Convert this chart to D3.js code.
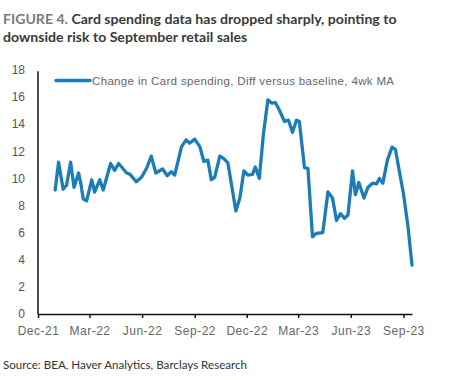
<!DOCTYPE html>
<html lang="en">
<head>
  <meta charset="UTF-8">
  <title>Card spending</title>
  <script src="https://d3js.org/d3.v7.min.js"></script>
  <style>
    body { margin: 0; background: #fff; }
    svg text { font-family: "Liberation Sans", Arial, sans-serif; }
  </style>
</head>
<body>
  <div id="chart"></div>
  <script>
    // values (date of point, level)
    const dates = [
      "2021-12-31","2022-01-06","2022-01-14","2022-01-20","2022-01-27","2022-02-02","2022-02-10","2022-02-14",
      "2022-02-18","2022-02-24","2022-03-05","2022-03-10","2022-03-19","2022-03-25","2022-04-07","2022-04-14",
      "2022-04-21","2022-05-05","2022-05-11","2022-05-22","2022-05-31","2022-06-09","2022-06-17","2022-06-25",
      "2022-07-07","2022-07-15","2022-07-22","2022-07-28","2022-08-09","2022-08-17","2022-08-23","2022-09-01",
      "2022-09-10","2022-09-17","2022-09-24","2022-09-30","2022-10-06","2022-10-15","2022-10-21","2022-10-29",
      "2022-11-12","2022-11-19","2022-11-26","2022-12-03","2022-12-11","2022-12-16","2022-12-23","2022-12-30",
      "2023-01-07","2023-01-14","2023-01-20","2023-01-27","2023-02-05","2023-02-12","2023-02-19","2023-02-26",
      "2023-03-03","2023-03-12","2023-03-18","2023-03-26","2023-04-02","2023-04-13","2023-04-22","2023-04-30",
      "2023-05-07","2023-05-14","2023-05-21","2023-05-27","2023-06-04","2023-06-09","2023-06-15","2023-06-24",
      "2023-07-01","2023-07-09","2023-07-16","2023-07-21","2023-07-27","2023-08-04","2023-08-12","2023-08-18",
      "2023-08-25","2023-09-01","2023-09-09","2023-09-16"
    ];
    const spending = [
      9.15, 11.2, 9.2, 9.5, 11.2, 9.35, 10.4, 9.6,
      8.5, 8.35, 9.9, 9.0, 9.9, 9.15, 11.1, 10.6,
      11.1, 10.4, 10.3, 9.75, 10.1, 10.75, 11.65, 10.4,
      10.7, 10.2, 10.5, 10.25, 12.35, 12.85, 12.6, 12.9,
      12.35, 11.25, 11.35, 9.9, 10.1, 11.65, 11.5, 11.15,
      7.6, 8.55, 10.55, 10.25, 10.3, 10.85, 10.0, 13.2,
      15.8, 15.55, 15.6, 15.05, 14.2, 14.3, 13.4, 14.3,
      14.2, 10.8, 10.75, 5.7, 5.95, 6.0, 9.0, 8.55,
      6.9, 7.4, 7.05, 7.3, 10.55, 8.8, 9.7, 8.55,
      9.35, 9.65, 9.6, 10.0, 9.65, 11.35, 12.3, 12.15,
      10.5, 8.9, 6.45, 3.6
    ];
    const yTicks = [0, 2, 4, 6, 8, 10, 12, 14, 16, 18];
    const xTickDates = ["2021-12-01","2022-03-01","2022-06-01","2022-09-01","2022-12-01","2023-03-01","2023-06-01","2023-09-01"];
    const xDomain = ["2021-12-01", "2023-09-16"];
    const seriesName = "Change in Card spending, Diff versus baseline, 4wk MA";

    const parse = d3.timeParse("%Y-%m-%d");
    const data = dates.map((d, i) => ({ date: parse(d), value: spending[i] }));

    const width = 462, height = 380;
    const svg = d3.select("#chart").append("svg")
      .attr("width", width).attr("height", height);

    const x = d3.scaleTime().domain(xDomain.map(parse)).range([38, 412]);
    const y = d3.scaleLinear().domain([0, 18]).range([314, 70]);

    // title
    const title = svg.append("text").attr("x", 3).attr("y", 24)
      .style("font-family", "Lato, sans-serif").style("font-size", "14.1px").style("font-weight", "bold");
    title.append("tspan").attr("fill", "#7a7a7a").text("FIGURE 4. ");
    title.append("tspan").attr("fill", "#3a3a3a").text("Card spending data has dropped sharply, pointing to");
    svg.append("text").attr("x", 3).attr("y", 42)
      .style("font-family", "Lato, sans-serif").style("font-size", "14.1px").style("font-weight", "bold")
      .attr("fill", "#3a3a3a").text("downside risk to September retail sales");

    // y axis labels
    svg.append("g").selectAll("text").data(yTicks).join("text")
      .attr("x", 25).attr("y", d => y(d)).attr("dy", "0.35em")
      .attr("text-anchor", "end").attr("fill", "#555")
      .style("font-size", "12px").text(d => d);

    // x axis
    const xAxis = d3.axisBottom(x)
      .tickValues(xTickDates.map(parse))
      .tickFormat(d3.timeFormat("%b-%y"))
      .tickSize(4).tickSizeOuter(0);
    const gx = svg.append("g").attr("transform", "translate(0,314)").call(xAxis);
    gx.select(".domain").attr("stroke", "#111").attr("stroke-width", 1.5);
    gx.selectAll(".tick line").attr("stroke", "#111").attr("stroke-width", 1.5);
    gx.selectAll(".tick text").attr("fill", "#666").attr("dy", "1.2em")
      .style("font-size", "12px").style("letter-spacing", "0.5px");

    // y axis line
    svg.append("line").attr("x1", 38).attr("x2", 38).attr("y1", y(17.9)).attr("y2", 314)
      .attr("stroke", "#111").attr("stroke-width", 1.5);

    // series line
    svg.append("path").datum(data)
      .attr("fill", "none").attr("stroke", "#1b7db8").attr("stroke-width", 3.3)
      .attr("stroke-linejoin", "round").attr("stroke-linecap", "round")
      .attr("d", d3.line().x(d => x(d.date)).y(d => y(d.value)));

    // legend
    svg.append("line").attr("x1", 56).attr("x2", 90).attr("y1", 80.5).attr("y2", 80.5)
      .attr("stroke", "#1b7db8").attr("stroke-width", 3.3).attr("stroke-linecap", "round");
    svg.append("text").attr("x", 92).attr("y", 85).attr("fill", "#666")
      .style("font-size", "11.5px").attr("textLength", 302).attr("lengthAdjust", "spacing")
      .text(seriesName);

    // source
    svg.append("text").attr("x", 3).attr("y", 369).attr("fill", "#333")
      .style("font-family", "Lato, sans-serif").style("font-size", "11.6px")
      .text("Source: BEA, Haver Analytics, Barclays Research");
  </script>
</body>
</html>
